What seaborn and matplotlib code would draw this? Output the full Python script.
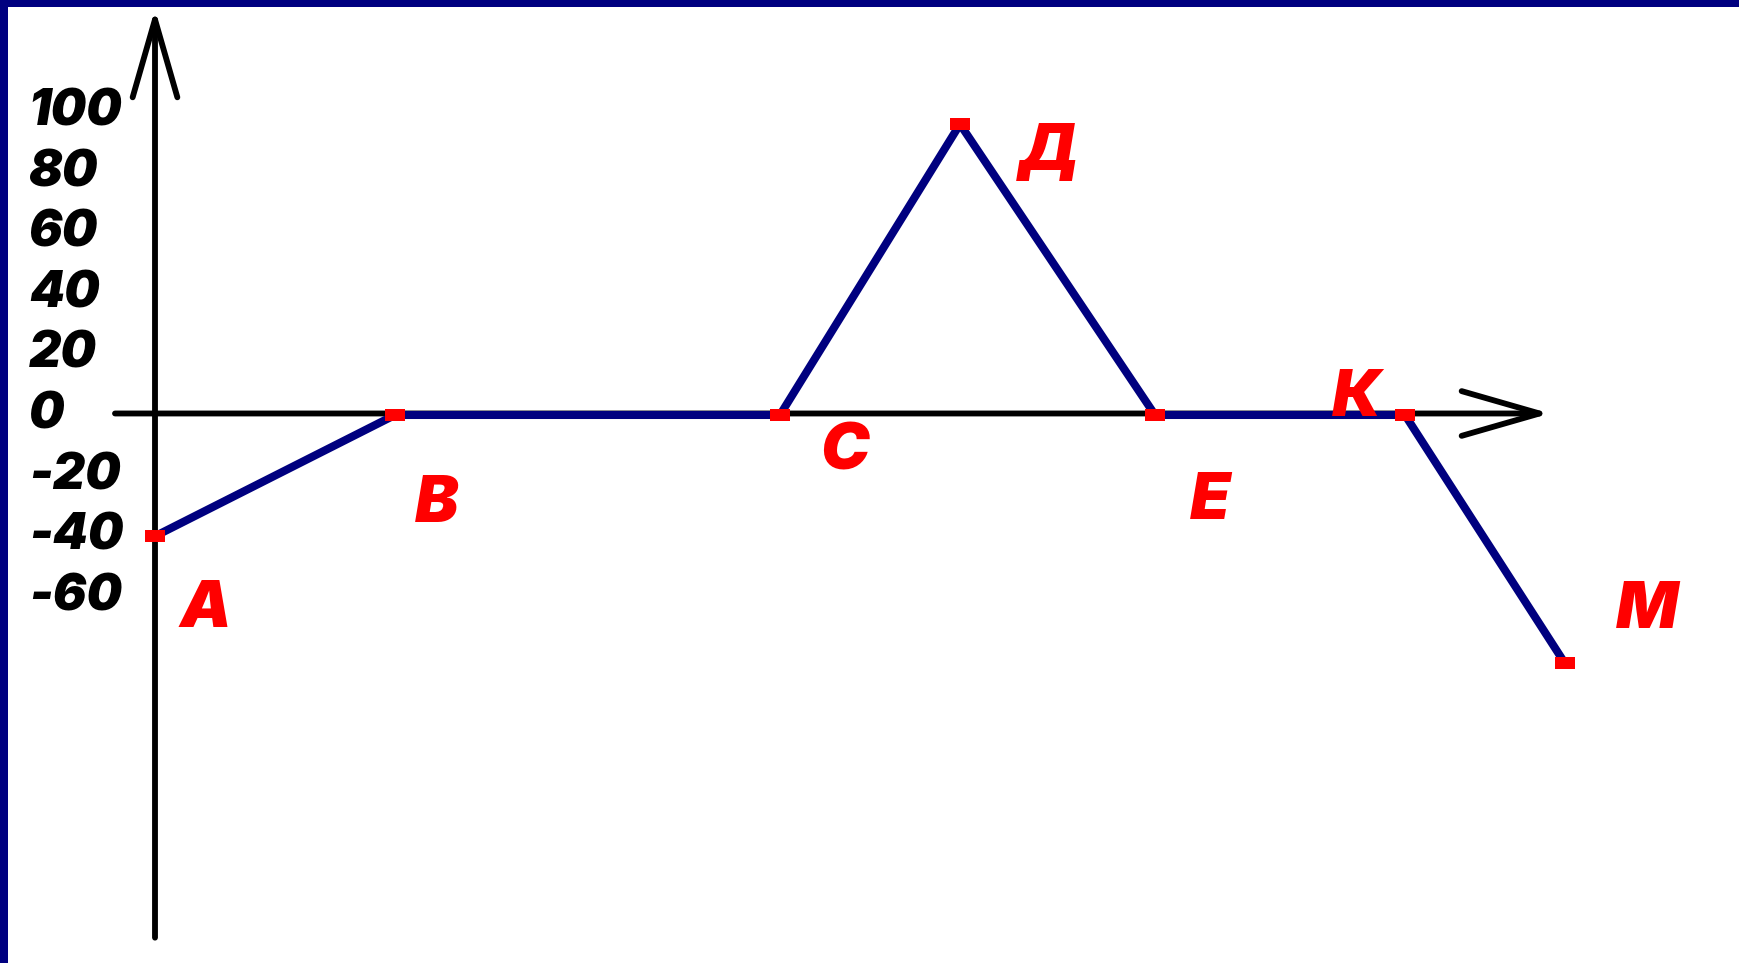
import pandas as pd
import matplotlib
matplotlib.use("Agg")
import matplotlib.pyplot as plt
import seaborn as sns

# point names and values
names = ["А", "В", "С", "Д", "Е", "К", "М"]
times = [0, 4.8, 12.5, 16.1, 20, 25, 28.2]
values = [-40, 0, 0, 96, 0, 0, -82]
ytick_vals = [100, 80, 60, 40, 20, 0, -20, -40, -60]

# label offsets from each point, in pixels
label_offsets = [(50, -74), (42, -90), (65, -37), (89, -29), (55, -87), (-48, 16), (82, 52)]

NAVY = "#000080"
LINE = "#00007f"
RED = "#ff0000"

sns.set_theme(style="white")
plt.rcParams["font.family"] = ["Inter", "DejaVu Sans"]

W, H, DPI = 1740, 963, 100
fig = plt.figure(figsize=(W / DPI, H / DPI), dpi=DPI, facecolor=NAVY)

# white slide area, navy frame on top and left
left_px, top_px = 8, 7
ax = fig.add_axes([left_px / W, 0, 1 - left_px / W, 1 - top_px / H])
ax.set_facecolor("white")

x0_px, y0_px = 155, 415      # origin in the picture
px_x, px_y = 50.0, 3.03      # pixels per unit
ax.set_xlim((left_px - x0_px) / px_x, (W - x0_px) / px_x)
ax.set_ylim(-(H - y0_px) / px_y, (y0_px - top_px) / px_y)

for s in ax.spines.values():
    s.set_visible(False)

# coordinate axes with open arrow heads
arrow = dict(arrowstyle="->,head_length=4.0,head_width=1.15", mutation_scale=14,
             lw=4.2, color="black", shrinkA=0, shrinkB=0)
ax.annotate("", xy=(0, 134), xytext=(0, -172.5), arrowprops=arrow, zorder=1)
ax.annotate("", xy=(27.9, 0.5), xytext=(-0.8, 0.5), arrowprops=arrow, zorder=1)

df = pd.DataFrame({"t": times, "v": values})
rect = [(-5, -3), (5, -3), (5, 3), (-5, 3)]
sns.lineplot(data=df, x="t", y="v", sort=False, ax=ax, color=LINE, lw=5.8,
             marker=rect, markersize=14, markerfacecolor=RED, markeredgewidth=0,
             zorder=3)

for name, t, v, (dx, dy) in zip(names, times, values, label_offsets):
    ax.annotate(name, (t, v), xytext=(dx, dy), textcoords="offset pixels",
                ha="center", va="center", color=RED, fontsize=47,
                fontweight="black", fontstyle="italic", zorder=4)

ax.set_xticks([])
ax.set_yticks(ytick_vals)
ax.set_yticklabels([str(v) for v in ytick_vals], fontsize=36,
                   fontweight="black", fontstyle="italic", color="black")
ax.tick_params(axis="y", length=0, pad=-15)
for lab in ax.get_yticklabels():
    lab.set_horizontalalignment("left")
    lab.set_verticalalignment("center")
ax.set_xlabel("")
ax.set_ylabel("")

fig.savefig("out.png", dpi=DPI, facecolor=NAVY)
